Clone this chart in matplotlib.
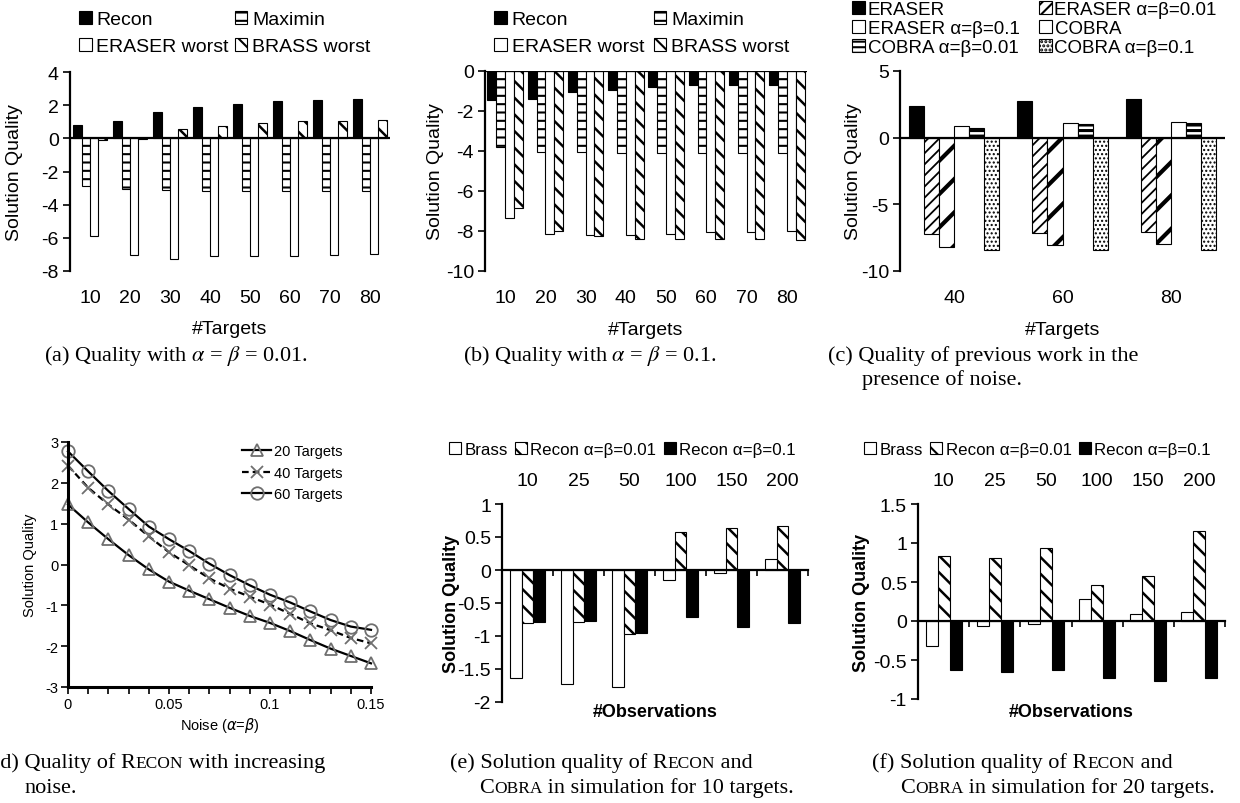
import numpy as np
import matplotlib.pyplot as plt
from matplotlib.patches import Patch
from matplotlib.ticker import FuncFormatter

plt.rcParams['font.family'] = ['Liberation Sans', 'DejaVu Sans']
plt.rcParams['axes.unicode_minus'] = False
plt.rcParams['hatch.linewidth'] = 1.5

# ---- data ----
targets = ['10', '20', '30', '40', '50', '60', '70', '80']
a_recon = [0.8, 1.05, 1.6, 1.9, 2.05, 2.25, 2.3, 2.35]
a_maximin = [-2.9, -3.05, -3.1, -3.15, -3.15, -3.15, -3.15, -3.15]
a_eraser_worst = [-5.9, -7.05, -7.25, -7.1, -7.1, -7.1, -7.05, -7.0]
a_brass_worst = [-0.1, -0.04, 0.55, 0.75, 0.9, 1.05, 1.05, 1.1]

b_recon = [-1.45, -1.4, -1.05, -0.95, -0.8, -0.7, -0.72, -0.7]
b_maximin = [-3.8, -4.05, -4.05, -4.1, -4.1, -4.1, -4.1, -4.1]
b_eraser_worst = [-7.35, -8.15, -8.2, -8.2, -8.15, -8.05, -8.05, -8.0]
b_brass_worst = [-6.85, -8.0, -8.25, -8.4, -8.4, -8.4, -8.4, -8.45]

c_targets = ['40', '60', '80']
c_eraser = [2.4, 2.75, 2.9]
c_eraser_001 = [-7.2, -7.15, -7.1]
c_eraser_01 = [-8.2, -8.05, -8.0]
c_cobra = [0.88, 1.1, 1.2]
c_cobra_001 = [0.75, 1.0, 1.1]
c_cobra_01 = [-8.4, -8.4, -8.4]

noise = [0, 0.01, 0.02, 0.03, 0.04, 0.05, 0.06, 0.07, 0.08, 0.09, 0.10, 0.11, 0.12, 0.13, 0.14, 0.15]
d_20 = [1.47, 1.03, 0.62, 0.23, -0.12, -0.42, -0.64, -0.85, -1.06, -1.26, -1.43, -1.63, -1.85, -2.06, -2.24, -2.42]
d_40 = [2.42, 1.88, 1.47, 1.10, 0.69, 0.30, -0.02, -0.34, -0.59, -0.79, -0.98, -1.21, -1.44, -1.61, -1.80, -1.93]
d_60 = [2.77, 2.28, 1.80, 1.36, 0.93, 0.62, 0.33, 0.02, -0.26, -0.51, -0.74, -0.93, -1.15, -1.36, -1.52, -1.60]

obs = ['10', '25', '50', '100', '150', '200']
e_brass = [-1.63, -1.72, -1.77, -0.15, -0.04, 0.16]
e_recon_001 = [-0.8, -0.79, -0.97, 0.58, 0.63, 0.67]
e_recon_01 = [-0.79, -0.77, -0.96, -0.71, -0.87, -0.81]

f_brass = [-0.32, -0.07, -0.04, 0.28, 0.09, 0.12]
f_recon_001 = [0.83, 0.81, 0.94, 0.46, 0.58, 1.16]
f_recon_01 = [-0.63, -0.66, -0.63, -0.73, -0.77, -0.73]

# ---- bar styles ----
BLACK = dict(fc='black', hatch=None, hlw=1.5)
WHITE = dict(fc='white', hatch=None, hlw=1.5)
LADDER = dict(fc='white', hatch='--', hlw=1.5)
BACK = dict(fc='white', hatch='\\\\', hlw=1.8)
FINE_FWD = dict(fc='white', hatch='///', hlw=1.3)
WIDE_FWD = dict(fc='white', hatch='/', hlw=3.0)
THICK_H = dict(fc='white', hatch='---', hlw=2.2)
DOTS = dict(fc='white', hatch='....', hlw=1.0)

W, H = 1240, 804
fig = plt.figure(figsize=(W / 100, H / 100), dpi=100)


def add_ax(left, top, right, bottom):
    return fig.add_axes([left / W, 1 - bottom / H, (right - left) / W, (bottom - top) / H])


def draw_bars(ax, series, styles, width):
    n = len(series)
    x = np.arange(len(series[0]))
    for i, (vals, st) in enumerate(zip(series, styles)):
        off = (i - (n - 1) / 2) * width
        with plt.rc_context({'hatch.linewidth': st['hlw']}):
            bars = ax.bar(x + off, vals, width, facecolor=st['fc'], edgecolor='black',
                          hatch=st['hatch'], linewidth=0.8, zorder=2)
        for b in bars:
            if hasattr(b, 'set_hatch_linewidth'):
                b.set_hatch_linewidth(st['hlw'])
    ax.set_xlim(-0.5, len(series[0]) - 0.5)
    return x


def handle(st):
    return Patch(facecolor=st['fc'], edgecolor='black', hatch=st['hatch'], linewidth=0.8)


def excel_axes(ax, ylab_x):
    for s in ['top', 'right', 'bottom']:
        ax.spines[s].set_visible(False)
    ax.spines['left'].set_linewidth(1.6)
    ax.axhline(0, color='black', lw=1.6, zorder=3)
    ax.tick_params(axis='y', direction='out', length=5, width=1.2, labelsize=14, pad=3)
    ax.tick_params(axis='x', length=0, labelsize=14, pad=13)
    ax.set_ylabel('Solution Quality', fontsize=14, va='center')
    ax.yaxis.set_label_coords(ylab_x, 0.5)
    ax.set_xlabel('#Targets', fontsize=14, va='center')
    ax.xaxis.set_label_coords(0.5, -58 / 199)


# (a)
ax = add_ax(70, 73, 390, 272)
x = draw_bars(ax, [a_recon, a_maximin, a_eraser_worst, a_brass_worst],
              [BLACK, LADDER, WHITE, BACK], 0.21)
ax.set_xticks(x, targets)
ax.set_ylim(-8, 4)
ax.set_yticks(range(-8, 5, 2))
excel_axes(ax, -55 / 320)
fig.legend([handle(BLACK), handle(WHITE), handle(LADDER), handle(BACK)],
           ['Recon', 'ERASER worst', 'Maximin', 'BRASS worst'],
           ncol=2, loc='upper left', bbox_to_anchor=(79 / W, 1 - 12 / H), frameon=False,
           fontsize=14, handlelength=0.65, handleheight=0.65, handletextpad=0.25,
           columnspacing=0.3, labelspacing=0.5, borderpad=0, borderaxespad=0)

# (b)
ax = add_ax(485, 72, 807, 272)
x = draw_bars(ax, [b_recon, b_maximin, b_eraser_worst, b_brass_worst],
              [BLACK, LADDER, WHITE, BACK], 0.22)
ax.set_xticks(x, targets)
ax.set_ylim(-10, 0)
ax.set_yticks(range(-10, 1, 2))
excel_axes(ax, -50 / 322)
fig.legend([handle(BLACK), handle(WHITE), handle(LADDER), handle(BACK)],
           ['Recon', 'ERASER worst', 'Maximin', 'BRASS worst'],
           ncol=2, loc='upper left', bbox_to_anchor=(494 / W, 1 - 12 / H), frameon=False,
           fontsize=14, handlelength=0.65, handleheight=0.65, handletextpad=0.25,
           columnspacing=0.5, labelspacing=0.5, borderpad=0, borderaxespad=0)

# (c)
ax = add_ax(900, 72, 1225, 272)
c_styles = [BLACK, FINE_FWD, WIDE_FWD, WHITE, THICK_H, DOTS]
x = draw_bars(ax, [c_eraser, c_eraser_001, c_eraser_01, c_cobra, c_cobra_001, c_cobra_01],
              c_styles, 0.139)
ax.set_xticks(x, c_targets)
ax.set_ylim(-10, 5)
ax.set_yticks([-10, -5, 0, 5])
excel_axes(ax, -47 / 325)
fig.legend([handle(BLACK), handle(WIDE_FWD), handle(THICK_H),
            handle(FINE_FWD), handle(WHITE), handle(DOTS)],
           ['ERASER', 'ERASER α=β=0.1', 'COBRA α=β=0.01',
            'ERASER α=β=0.01', 'COBRA', 'COBRA α=β=0.1'],
           ncol=2, loc='upper left', bbox_to_anchor=(852 / W, 1 - 2 / H), frameon=False,
           fontsize=13.5, handlelength=0.7, handleheight=0.7, handletextpad=0.15,
           columnspacing=1.0, labelspacing=0.1, borderpad=0, borderaxespad=0)

# (d)
ax = add_ax(68, 443, 371, 688)
mk = dict(ms=9, mfc='none', mec='#6f6f6f', mew=1.3, clip_on=False)
ax.plot(noise, d_20, color='black', lw=1.6, marker='^', label='20 Targets', **mk)
ax.plot(noise, d_40, color='black', lw=1.6, ls=(0, (3, 1.8)), marker='x', label='40 Targets', **mk)
ax.plot(noise, d_60, color='black', lw=1.6, marker='o', label='60 Targets', **mk)
ax.set_xlim(0, 0.15)
ax.set_ylim(-3, 3)
for s in ['top', 'right']:
    ax.spines[s].set_visible(False)
ax.spines['left'].set_linewidth(2.2)
ax.spines['bottom'].set_linewidth(2.2)
ax.set_xticks([0, 0.05, 0.1, 0.15], ['0', '0.05', '0.1', '0.15'])
ax.set_xticks(noise, minor=True)
ax.set_yticks(range(-3, 4))
ax.tick_params(axis='both', which='both', direction='out', length=5, width=1.2, labelsize=10.5, pad=2)
ax.set_ylabel('Solution Quality', fontsize=10.5, va='center')
ax.yaxis.set_label_coords(-38 / 303, 0.5)
ax.set_xlabel(r'Noise ($\alpha$=$\beta$)', fontsize=10.5, va='center')
ax.xaxis.set_label_coords(0.5, -38 / 245)
ax.legend(loc='upper left', bbox_to_anchor=(0.575, 0.99), frameon=False, fontsize=10.5,
          handlelength=2.0, handletextpad=0.15, labelspacing=0.5, borderpad=0, borderaxespad=0)


# (e), (f)
def obs_axes(ax, ylim, yticks, ylab_x, xlab_y):
    ax.set_ylim(*ylim)
    ax.set_yticks(yticks)
    ax.yaxis.set_major_formatter(FuncFormatter(lambda v, p: f'{v:g}'))
    for s in ['top', 'right']:
        ax.spines[s].set_visible(False)
    ax.spines['left'].set_linewidth(1.6)
    ax.spines['bottom'].set_position(('data', 0))
    ax.spines['bottom'].set_linewidth(1.6)
    ax.spines['bottom'].set_zorder(3)
    ax.set_xticks(np.arange(len(obs)), obs)
    ax.set_xticks(np.arange(len(obs) + 1) - 0.5, minor=True)
    ax.tick_params(axis='x', which='major', length=0, labelbottom=False, labeltop=True,
                   labelsize=14, pad=11)
    ax.tick_params(axis='x', which='minor', direction='out', length=4, width=1.2)
    ax.tick_params(axis='y', direction='out', length=5, width=1.2, labelsize=14, pad=3)
    ax.set_ylabel('Solution Quality', fontsize=13, fontweight='bold', va='center')
    ax.yaxis.set_label_coords(ylab_x, 0.5)
    ax.set_xlabel('#Observations', fontsize=13, fontweight='bold', va='center')
    ax.xaxis.set_label_coords(0.5, xlab_y)


for (l, t, r, b), br, r1, r2, ylim, yt, ylx, leg_x in [
        ((502, 505, 808, 703), e_brass, e_recon_001, e_recon_01, (-2, 1),
         [-2, -1.5, -1, -0.5, 0, 0.5, 1], -50 / 306, 449),
        ((918, 505, 1225, 700), f_brass, f_recon_001, f_recon_01, (-1, 1.5),
         [-1, -0.5, 0, 0.5, 1, 1.5], -56 / 307, 864)]:
    ax = add_ax(l, t, r, b)
    draw_bars(ax, [br, r1, r2], [WHITE, BACK, BLACK], 0.235)
    obs_axes(ax, ylim, yt, ylx, -(713 - b) / (b - t))
    fig.legend([handle(WHITE), handle(BACK), handle(BLACK)],
               ['Brass', 'Recon α=β=0.01', 'Recon α=β=0.1'],
               ncol=3, loc='upper left', bbox_to_anchor=(leg_x / W, 1 - 443 / H), frameon=False,
               fontsize=12.2, handlelength=0.7, handleheight=0.7, handletextpad=0.2,
               columnspacing=0.45, borderpad=0, borderaxespad=0)

# ---- captions ----
renderer = fig.canvas.get_renderer()
CAP = 16
SC = 0.78


def caption(x, y, parts):
    for s, scale in parts:
        t = fig.text(x / W, 1 - y / H, s, fontsize=CAP * scale, family='Liberation Serif',
                     math_fontfamily='stix', va='baseline', ha='left')
        x += t.get_window_extent(renderer=renderer).width


caption(44, 361, [(r'(a) Quality with $\alpha$ = $\beta$ = 0.01.', 1)])
caption(463, 361, [(r'(b) Quality with $\alpha$ = $\beta$ = 0.1.', 1)])
caption(828, 361, [('(c) Quality of previous work in the', 1)])
caption(862, 385, [('presence of noise.', 1)])
caption(-7, 768, [('(d) Quality of R', 1), ('ECON', SC), (' with increasing', 1)])
caption(24, 793, [('noise.', 1)])
caption(450, 768, [('(e) Solution quality of R', 1), ('ECON', SC), (' and', 1)])
caption(479, 793, [('C', 1), ('OBRA', SC), (' in simulation for 10 targets.', 1)])
caption(872, 768, [('(f) Solution quality of R', 1), ('ECON', SC), (' and', 1)])
caption(900, 793, [('C', 1), ('OBRA', SC), (' in simulation for 20 targets.', 1)])

fig.savefig('out.png', dpi=100)
